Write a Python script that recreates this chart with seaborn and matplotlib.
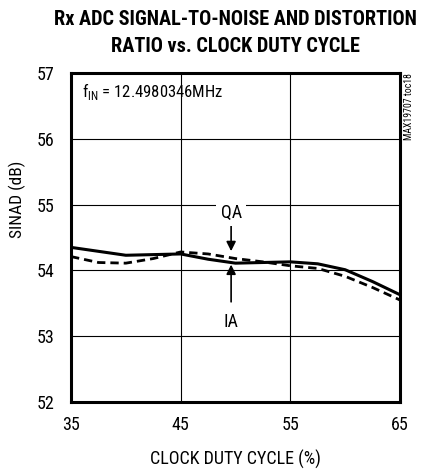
import matplotlib
matplotlib.use("Agg")
import matplotlib.pyplot as plt
import seaborn as sns
import pandas as pd

# data
duty = [35, 37.5, 40, 42.5, 45, 47.5, 50, 52.5, 55, 57.5, 60, 62.5, 65]
sinad_ia = [54.35, 54.29, 54.23, 54.24, 54.25, 54.17, 54.11, 54.12, 54.13, 54.10, 54.01, 53.83, 53.63]
sinad_qa = [54.21, 54.12, 54.11, 54.18, 54.28, 54.25, 54.18, 54.13, 54.07, 54.03, 53.91, 53.74, 53.55]
xticks = [35, 45, 55, 65]
yticks = [52, 53, 54, 55, 56, 57]

sns.set_style("white")
plt.rcParams['font.family'] = ['Roboto Condensed', 'DejaVu Sans']
plt.rcParams['text.color'] = 'black'
plt.rcParams['axes.labelcolor'] = 'black'
plt.rcParams['xtick.color'] = 'black'
plt.rcParams['ytick.color'] = 'black'
plt.rcParams['mathtext.fontset'] = 'custom'
plt.rcParams['mathtext.rm'] = 'Roboto Condensed'

df = pd.DataFrame({'duty': duty, 'IA': sinad_ia, 'QA': sinad_qa})

fig = plt.figure(figsize=(4.3, 4.72), dpi=100)
ax = fig.add_axes([71/430, 1 - 402/472, 329/430, 329/472])

sns.lineplot(x='duty', y='IA', data=df, ax=ax, color='black', lw=2.2)
sns.lineplot(x='duty', y='QA', data=df, ax=ax, color='black', lw=2.0, linestyle=(0, (3, 1.8)))

ax.set_xlim(35, 65)
ax.set_ylim(52, 57)
ax.set_xticks(xticks)
ax.set_yticks(yticks)
ax.grid(True, color='black', lw=0.8)
for s in ax.spines.values():
    s.set_linewidth(2.2)
    s.set_color('black')
ax.tick_params(length=0, labelsize=13)
ax.tick_params(axis='x', pad=10)
ax.tick_params(axis='y', pad=12)
ax.set_xlabel('CLOCK DUTY CYCLE (%)', fontsize=13)
ax.set_ylabel('SINAD (dB)', fontsize=12.5)
ax.xaxis.set_label_coords(0.5, -0.145)
ax.yaxis.set_label_coords(-0.137, 0.615)

ax.text(36, 56.72, r'f$_{\mathregular{IN}}$ = 12.4980346MHz', fontsize=12, va='center', ha='left')
ax.text(1.028, 1.0, 'MAX19707 toc18', transform=ax.transAxes, rotation=90,
        fontsize=7, va='top', ha='center')

# arrow labels
ax.annotate('', xy=(49.6, 54.25), xytext=(49.6, 54.72),
            arrowprops=dict(arrowstyle='-|>', color='black', lw=1.2, mutation_scale=14))
ax.text(49.6, 54.88, 'QA', fontsize=13, ha='center', va='center',
        bbox=dict(facecolor='white', edgecolor='none', pad=3))
ax.annotate('', xy=(49.6, 54.13), xytext=(49.6, 53.48),
            arrowprops=dict(arrowstyle='-|>', color='black', lw=1.2, mutation_scale=14))
ax.text(49.6, 53.22, 'IA', fontsize=13, ha='center', va='center')

fig.text(235/430, 1 - 19.5/472, 'Rx ADC SIGNAL-TO-NOISE AND DISTORTION', fontsize=14.6,
         fontweight='black', ha='center', va='center')
fig.text(235/430, 1 - 46.5/472, 'RATIO vs. CLOCK DUTY CYCLE', fontsize=14.6,
         fontweight='black', ha='center', va='center')

fig.savefig('out.png', dpi=100)
